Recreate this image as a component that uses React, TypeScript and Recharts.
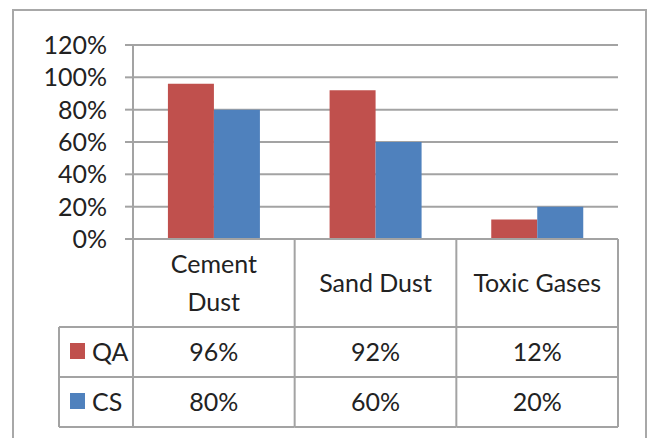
import { BarChart, Bar, XAxis, YAxis, CartesianGrid } from 'recharts';

const categories = ['Cement Dust', 'Sand Dust', 'Toxic Gases'];
const categoryLines = [['Cement', 'Dust'], ['Sand Dust'], ['Toxic Gases']];
const qaValues = [96, 92, 12];
const csValues = [80, 60, 20];
const yTicks = [0, 20, 40, 60, 80, 100, 120];

const series = [
  { key: 'QA', name: 'QA', values: qaValues, color: '#C0504D' },
  { key: 'CS', name: 'CS', values: csValues, color: '#4F81BD' },
];

const data = categories.map((name, i) => ({ name, QA: qaValues[i], CS: csValues[i] }));

const CHART_W = 648;
const CHART_H = 438;
const MARGIN = { top: 45, right: 30, left: 0, bottom: 11 };
const Y_AXIS_W = 133;
const X_AXIS_H = 188;
const HEADER_H = 88;
const ROW_H = 50;
const LEGEND_COL_W = 74;
const cellWidth = (CHART_W - MARGIN.left - MARGIN.right - Y_AXIS_W) / categories.length;

const LINE = '#a3a3a3';
const TEXT = '#222222';
const FONT = 'Lato, "Open Sans", sans-serif';
const FONT_SIZE = 25;

const TableColumn = (props: any) => {
  const { x, y, payload } = props;
  const i = payload.index;
  const half = cellWidth / 2;
  const left = x - half;
  const right = x + half;
  const lines = categoryLines[i];
  const firstBaseline = y + HEADER_H / 2 + 9 - (lines.length - 1) * 19;
  const rowLines = [HEADER_H, HEADER_H + ROW_H, HEADER_H + ROW_H * 2];

  return (
    <g>
      <line x1={left} x2={left} y1={y} y2={y + X_AXIS_H} stroke={LINE} strokeWidth={2} />
      {i === categories.length - 1 && (
        <line x1={right} x2={right} y1={y} y2={y + X_AXIS_H} stroke={LINE} strokeWidth={2} />
      )}
      {rowLines.map((dy) => (
        <line key={dy} x1={left} x2={right} y1={y + dy} y2={y + dy} stroke={LINE} strokeWidth={2} />
      ))}
      {lines.map((t, k) => (
        <text
          key={t}
          x={x}
          y={firstBaseline + k * 38}
          textAnchor="middle"
          fill={TEXT}
          fontSize={FONT_SIZE}
          fontFamily={FONT}
        >
          {t}
        </text>
      ))}
      {series.map((s, r) => (
        <text
          key={s.key}
          x={x}
          y={y + HEADER_H + r * ROW_H + ROW_H / 2 + 9}
          textAnchor="middle"
          fill={TEXT}
          fontSize={FONT_SIZE}
          fontFamily={FONT}
        >
          {s.values[i]}%
        </text>
      ))}
      {i === 0 && (
        <g>
          <line
            x1={left - LEGEND_COL_W}
            x2={left - LEGEND_COL_W}
            y1={y + HEADER_H}
            y2={y + X_AXIS_H}
            stroke={LINE}
            strokeWidth={2}
          />
          {rowLines.map((dy) => (
            <line
              key={dy}
              x1={left - LEGEND_COL_W}
              x2={left}
              y1={y + dy}
              y2={y + dy}
              stroke={LINE}
              strokeWidth={2}
            />
          ))}
          {series.map((s, r) => (
            <g key={s.key}>
              <rect
                x={left - 63}
                y={y + HEADER_H + r * ROW_H + 16}
                width={15}
                height={16}
                fill={s.color}
              />
              <text
                x={left - 41}
                y={y + HEADER_H + r * ROW_H + ROW_H / 2 + 9}
                textAnchor="start"
                fill={TEXT}
                fontSize={FONT_SIZE}
                fontFamily={FONT}
              >
                {s.name}
              </text>
            </g>
          ))}
        </g>
      )}
    </g>
  );
};

export default function App() {
  return (
    <div style={{ position: 'absolute', left: 0, top: 0, width: CHART_W, height: CHART_H, overflow: 'hidden', background: '#fff' }}>
      <div
        style={{
          position: 'absolute',
          left: 12,
          top: 9,
          width: 635,
          height: 440,
          border: '2px solid #a8a8a8',
          boxSizing: 'border-box',
        }}
      />
      <div style={{ position: 'absolute', left: 0, top: 0 }}>
        <BarChart
          width={CHART_W}
          height={CHART_H}
          data={data}
          margin={MARGIN}
          barCategoryGap="21.6%"
          barGap={0}
        >
          <CartesianGrid vertical={false} stroke={LINE} strokeWidth={2} />
          <YAxis
            width={Y_AXIS_W}
            domain={[0, 120]}
            ticks={yTicks}
            interval={0}
            tickFormatter={(v: number) => `${v}%`}
            tick={{ fontSize: FONT_SIZE, fill: TEXT, fontFamily: FONT }}
            tickSize={8}
            tickMargin={18}
            tickLine={{ stroke: LINE, strokeWidth: 2 }}
            axisLine={{ stroke: LINE, strokeWidth: 2 }}
          />
          <XAxis
            dataKey="name"
            height={X_AXIS_H}
            interval={0}
            tickSize={0}
            tickMargin={0}
            tickLine={false}
            axisLine={{ stroke: LINE, strokeWidth: 2 }}
            tick={<TableColumn />}
          />
          {series.map((s) => (
            <Bar key={s.key} dataKey={s.key} name={s.name} fill={s.color} isAnimationActive={false} />
          ))}
        </BarChart>
      </div>
    </div>
  );
}
